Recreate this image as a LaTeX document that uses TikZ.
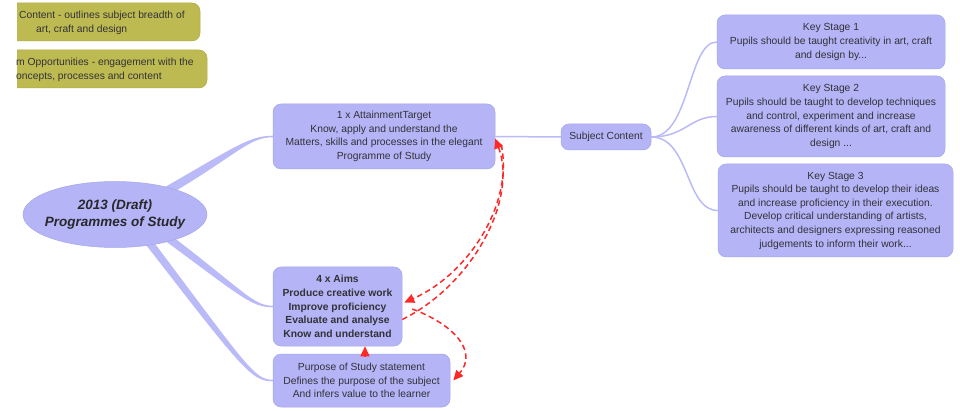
\documentclass[tikz,border=0pt]{standalone}
\usepackage{fontspec}
\setmainfont{Liberation Sans}
\usetikzlibrary{shapes.geometric,arrows.meta}
\definecolor{boxfill}{RGB}{180,180,247}
\definecolor{boxline}{RGB}{165,165,235}
\definecolor{branch}{RGB}{186,186,248}
\definecolor{olive}{RGB}{190,186,82}
\definecolor{oliveline}{RGB}{175,170,70}
\definecolor{txt}{RGB}{50,50,55}
\definecolor{redline}{RGB}{255,40,40}
\tikzset{
  mmbox/.style={rounded corners=8pt, fill=boxfill, draw=boxline, line width=0.5pt, text=txt, align=center,
    font=\fontsize{10.3}{13.6}\selectfont, inner sep=0pt},
  olivebox/.style={rounded corners=8pt, fill=olive, draw=oliveline, line width=0.5pt},
  olivetext/.style={text=txt, align=left, font=\fontsize{10.3}{14}\selectfont, inner sep=0pt, anchor=west},
  thinbranch/.style={draw=branch, line width=1.5pt},
  taper/.style={fill=branch, draw=none},
  redarr/.style={draw=redline, line width=1.5pt, dash pattern=on 5.5pt off 3.5pt,
    -{Triangle[length=10pt,width=9pt,fill=redline]}}
}
\begin{document}
\begin{tikzpicture}[x=1pt,y=-1pt]
\useasboundingbox (0,0) rectangle (960,411);

% olive boxes (cut at left side)
\begin{scope}
  \clip (17,0) rectangle (960,411);
  \fill[olivebox] (-40,3) rectangle (200,41);
  \fill[olivebox] (-40,50) rectangle (207,88);
\end{scope}
\node[olivetext] (o1) at (19,23) {Content - outlines subject breadth of\\\hspace*{17pt}art, craft and design};
\node[olivetext] (o2) at (16,70) {m Opportunities - engagement with the\\oncepts, processes and content};

% main nodes
\node[mmbox, minimum width=222pt, minimum height=65pt] (att) at (384,136.5)
  {1 x AttainmentTarget\\Know, apply and understand the\\Matters, skills and processes in the elegant\\Programme of Study};
\node[mmbox, minimum width=129pt, minimum height=79pt, font=\bfseries\fontsize{10.3}{13.8}\selectfont] (aims) at (337.5,306.5)
  {4 x Aims\\Produce creative work\\Improve proficiency\\Evaluate and analyse\\Know and understand};
\node[mmbox, minimum width=177pt, minimum height=53pt] (purpose) at (361.5,380.5)
  {Purpose of Study statement\\Defines the purpose of the subject\\And infers value to the learner};
\node[mmbox, minimum width=90pt, minimum height=26pt] (sc) at (606,137) {Subject Content};
\node[mmbox, minimum width=228pt, minimum height=54pt] (ks1) at (831,42)
  {Key Stage 1\\Pupils should be taught creativity in art, craft\\and design by...};
\node[mmbox, minimum width=228pt, minimum height=81pt] (ks2) at (831,116.5)
  {Key Stage 2\\Pupils should be taught to develop techniques\\and control, experiment and increase\\awareness of different kinds of art, craft and\\design ...};
\node[mmbox, minimum width=235pt, minimum height=93pt] (ks3) at (835.5,210.5)
  {Key Stage 3\\Pupils should be taught to develop their ideas\\and increase proficiency in their execution.\\Develop critical understanding of artists,\\architects and designers expressing reasoned\\judgements to inform their work...};

% tapered branches from the central ellipse
\coordinate (b1u) at (158,191);
\coordinate (b1l) at (162,199);
\coordinate (b2u) at (162.4,228.8);
\coordinate (b2l) at (157.6,235.2);
\coordinate (b3u) at (143.2,228.1);
\coordinate (b3l) at (136.8,232.9);
\fill[taper] (b1u) .. controls (233,148.5) and (248,135.8) .. ([yshift=0.8pt]att.west)
  -- ([yshift=-0.8pt]att.west) .. controls (248,137.2) and (237,155.5) .. (b1l) -- cycle;
\fill[taper] (b2u) .. controls (245,291.5) and (253,305.8) .. ([yshift=0.8pt]aims.west)
  -- ([yshift=-0.8pt]aims.west) .. controls (251,307.2) and (241,296.5) .. (b2l) -- cycle;
\fill[taper] (b3u) .. controls (247,366) and (254,379.8) .. ([yshift=0.8pt]purpose.west)
  -- ([yshift=-0.8pt]purpose.west) .. controls (251,381.2) and (243,370) .. (b3l) -- cycle;

\node[ellipse, fill=boxfill, draw=boxline, line width=0.5pt, minimum width=184pt, minimum height=66pt,
  inner xsep=-10pt, inner ysep=0pt, align=center, text=txt!80!black, font=\bfseries\itshape\fontsize{13.5}{17}\selectfont] (e) at (115,214.5)
  {2013 (Draft)\\Programmes of Study};

% thin connectors
\draw[thinbranch] (att.east) -- (sc.west);
\draw[thinbranch] (sc.east) .. controls (690,137) and (688,42) .. (ks1.west);
\draw[thinbranch] (sc.east) .. controls (685,137) and (690,116.5) .. (ks2.west);
\draw[thinbranch] (sc.east) .. controls (690,137) and (685,210.5) .. (ks3.west);

% red dashed relations
\draw[redarr] ([yshift=-13pt]aims.east) .. controls (472,285) and (518,200) .. ([yshift=-2pt]att.east);
\draw[redarr] ([shift={(6pt,-8pt)}]att.east) .. controls (514,205) and (467,275) .. ([shift={(2pt,4pt)}]aims.east);
\draw[redarr] ([shift={(10pt,-2.5pt)}]aims.east) .. controls (455,325) and (478,352) .. ([xshift=3pt]purpose.east);
\draw[redarr] ([shift={(3.5pt,-3pt)}]purpose.north) -- ([xshift=27.5pt]aims.south);
\end{tikzpicture}
\end{document}
